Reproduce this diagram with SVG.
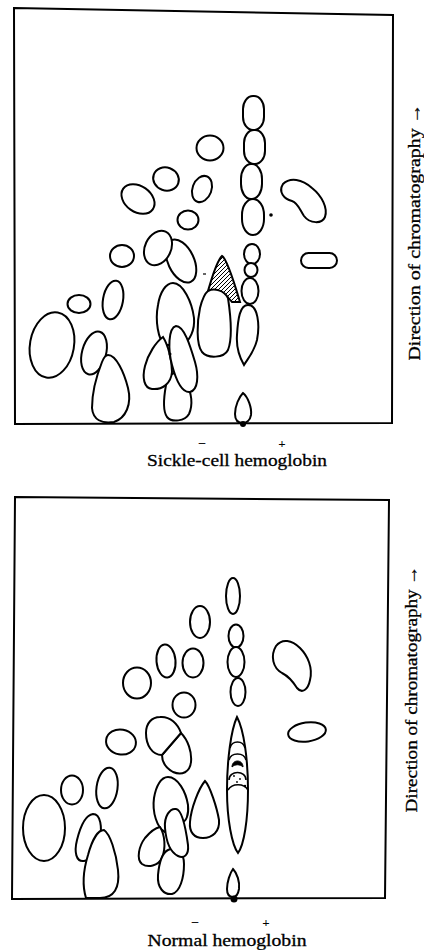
<svg xmlns="http://www.w3.org/2000/svg" width="424" height="950" viewBox="0 0 424 950">
<style>
.frame{fill:none;stroke:#000;stroke-width:2}
.s{fill:#fff;stroke:#000;stroke-width:2}
.ln{fill:none;stroke:#000;stroke-width:1.6}
.lbl{font-family:"Liberation Serif","Times New Roman",serif;font-size:17px;fill:#000;stroke:#000;stroke-width:0.3}
.sign{font-family:"Liberation Serif","Times New Roman",serif;font-size:13px;fill:#000;text-anchor:middle;font-weight:bold}
</style>
<defs>
<pattern id="hatch" patternUnits="userSpaceOnUse" width="4" height="4">
<rect width="4" height="4" fill="#fff"/>
<path d="M-1 1L1 -1M0 4L4 0M3 5L5 3" stroke="#000" stroke-width="1"/>
</pattern>
</defs>
<rect width="424" height="950" fill="#fff"/>

<g id="sickle-panel">
<path class="frame" d="M14 8L393 15L392 423L15 424Z"/>
<g id="sickle-spots">
<rect class="s" x="243" y="96" width="21" height="34" rx="10" ry="13"/>
<rect class="s" x="244" y="130" width="21" height="34" rx="10" ry="13"/>
<rect class="s" x="241" y="164" width="21" height="35" rx="10" ry="15"/>
<rect class="s" x="242" y="199" width="22" height="36" rx="11" ry="16"/>
<circle cx="271" cy="215" r="1.8" fill="#000"/>
<ellipse class="s" cx="252" cy="254" rx="8" ry="10"/>
<ellipse class="s" cx="251" cy="270" rx="6.5" ry="7"/>
<ellipse class="s" cx="250" cy="291" rx="8.5" ry="13"/>
<path class="s" d="M248 305C258 305 260 325 257 340C254 352 247 360 244 365C240 358 236 348 237 335C238 318 240 305 248 305Z"/>
<path class="s" d="M243 393C248 397 252 408 251 415C250 421 246 423 243 423C239 423 235 421 235 414C235 406 239 397 243 393Z"/>
<circle cx="243" cy="424" r="3" fill="#000"/>
<path d="M222 256C226 258 232 275 240 302L232 302C228 296 218 288 208 291C212 278 216 262 222 256Z" fill="url(#hatch)" stroke="#000" stroke-width="2"/>
<path class="s" d="M208 291C214 288 224 290 228 298C231 318 232 340 228 350C224 358 208 359 202 352C196 344 197 322 200 308C202 300 204 294 208 291Z"/>
<path d="M203 274h3" stroke="#000" stroke-width="1.2"/>
<path class="s" d="M283 184C290 177 302 179 312 188C322 196 328 208 325 217C322 224 310 224 304 216C300 210 298 203 292 201C284 199 278 192 283 184Z"/>
<rect class="s" x="301" y="253" width="36" height="15" rx="7.5"/>
<ellipse class="s" cx="210" cy="148" rx="13.5" ry="12.5"/>
<ellipse class="s" cx="166" cy="179" rx="13" ry="11.5" transform="rotate(20 166 179)"/>
<ellipse class="s" cx="202" cy="189" rx="9.5" ry="13.5" transform="rotate(20 202 189)"/>
<ellipse class="s" cx="138" cy="199" rx="18" ry="13" transform="rotate(35 138 199)"/>
<ellipse class="s" cx="188" cy="220" rx="10.5" ry="9.5"/>
<ellipse class="s" cx="122" cy="256" rx="12" ry="11"/>
<ellipse class="s" cx="79" cy="304" rx="11.5" ry="9"/>
<ellipse class="s" cx="113" cy="300" rx="10" ry="19.5" transform="rotate(10 113 300)"/>
<ellipse class="s" cx="181" cy="261" rx="13" ry="23" transform="rotate(-25 181 261)"/>
<ellipse class="s" cx="158" cy="248" rx="13" ry="18" transform="rotate(25 158 248)"/>
<ellipse class="s" cx="52" cy="345" rx="22" ry="33" transform="rotate(10 52 345)"/>
<ellipse class="s" cx="94" cy="353" rx="12" ry="22" transform="rotate(15 94 353)"/>
<path class="s" d="M108 355C116 355 124 372 128 388C132 404 126 418 114 422C102 424 93 420 92 408C92 390 98 372 102 362C104 357 106 355 108 355Z"/>
<path class="s" d="M173 283C183 283 192 302 194 318C195 330 190 340 183 345L165 345C158 340 155 320 158 305C160 292 166 283 173 283Z"/>
<path class="s" d="M172 374C180 370 184 380 186 385C192 392 193 405 189 414C185 421 172 423 167 417C162 410 164 396 166 385C167 378 169 375 172 374Z"/>
<path class="s" d="M163 337C168 345 172 360 172 372C171 384 162 390 152 389C144 388 142 378 145 366C148 354 156 342 163 337Z"/>
<path class="s" d="M176 326C184 326 190 345 195 362C199 376 198 390 190 392C182 393 176 380 172 365C168 350 168 328 176 326Z"/>
<circle cx="170" cy="354" r="1.5" fill="#000"/>
</g>
</g>
<g id="sickle-labels">
<text class="sign" x="202" y="446">–</text>
<text class="sign" x="282" y="448">+</text>
<text class="lbl" x="237" y="466" text-anchor="middle" textLength="180" lengthAdjust="spacingAndGlyphs">Sickle-cell hemoglobin</text>
<text class="lbl" transform="translate(420 232) rotate(-90)" text-anchor="middle" textLength="257" lengthAdjust="spacingAndGlyphs">Direction of chromatography →</text>
</g>

<g id="normal-panel">
<path class="frame" d="M15 497L389 500L385 898L12 899Z"/>
<g id="normal-spots">
<ellipse class="s" cx="233" cy="596" rx="7" ry="18"/>
<ellipse class="s" cx="236" cy="636" rx="7.5" ry="11.5"/>
<ellipse class="s" cx="236" cy="662" rx="8.5" ry="15"/>
<ellipse class="s" cx="238" cy="692" rx="7.5" ry="14"/>
<path class="s" d="M237 717C244 730 248 760 248 790C248 820 244 845 238 853C232 845 227 820 227 790C227 760 231 730 237 717Z"/>
<path class="ln" d="M230 748C232 740 243 740 245 748"/>
<path class="ln" d="M229 760C231 752 244 752 246 760"/>
<path d="M232 767C232 759 243 759 243 767C240 764 235 764 232 767Z" fill="#000" stroke="#000" stroke-width="1"/>
<path class="ln" d="M229 780C229 770 246 770 246 780"/>
<circle cx="234" cy="776" r="0.9" fill="#000"/>
<circle cx="240" cy="779" r="0.9" fill="#000"/>
<circle cx="237" cy="782" r="0.9" fill="#000"/>
<circle cx="245" cy="786" r="1.2" fill="#000"/>
<path class="ln" d="M228 790C232 783 244 783 248 790"/>
<path class="s" d="M233 869C237 873 240 882 239 889C238 895 236 897 233 897C230 897 227 895 227 889C227 882 230 873 233 869Z"/>
<circle cx="234" cy="899" r="3.5" fill="#000"/>
<path class="s" d="M276 646C282 638 292 640 300 648C308 656 313 668 310 680C308 690 302 694 297 688C292 680 288 676 282 673C273 668 270 656 276 646Z"/>
<ellipse class="s" cx="307" cy="732" rx="19" ry="9.5" transform="rotate(-8 307 732)"/>
<ellipse class="s" cx="200" cy="622" rx="10" ry="16"/>
<ellipse class="s" cx="166" cy="661" rx="9.5" ry="16.5" transform="rotate(-5 166 661)"/>
<ellipse class="s" cx="193" cy="663" rx="10.5" ry="14.5"/>
<ellipse class="s" cx="137" cy="683" rx="14" ry="15.5"/>
<ellipse class="s" cx="184" cy="705" rx="11.5" ry="12.5"/>
<ellipse class="s" cx="121" cy="742" rx="15" ry="12.5" transform="rotate(10 121 742)"/>
<path class="s" d="M181 733C188 740 192 752 191 762C190 772 182 776 173 772C166 768 162 762 162 755Z"/>
<path class="s" d="M160 717C170 716 178 724 181 733L162 755C152 755 146 745 146 733C146 723 152 717 160 717Z"/>
<ellipse class="s" cx="72" cy="790" rx="11" ry="14.5"/>
<ellipse class="s" cx="107" cy="788" rx="10.5" ry="20.5" transform="rotate(8 107 788)"/>
<ellipse class="s" cx="44" cy="828" rx="21" ry="33"/>
<path class="s" d="M93 814C101 814 102 828 100 838C98 850 92 860 84 861C76 862 74 852 77 840C80 828 85 815 93 814Z"/>
<path class="s" d="M104 830C110 834 116 852 118 870C120 888 114 898 100 898L86 898C82 885 84 868 88 855C92 840 98 830 104 830Z"/>
<path class="s" d="M168 777C178 777 186 792 188 805C189 815 186 822 182 822C178 820 175 818 172 825L165 832C157 828 152 812 154 798C156 786 161 777 168 777Z"/>
<path class="s" d="M160 827C165 835 166 848 162 858C158 866 148 868 142 864C136 859 139 846 145 838C150 832 155 828 160 827Z"/>
<path class="s" d="M168 850C176 846 184 852 184 864C184 878 180 892 172 894C164 895 157 888 158 875C159 864 162 853 168 850Z"/>
<path class="s" d="M176 809C182 810 186 830 188 845C189 855 184 859 178 856C170 852 166 840 165 828C164 816 170 808 176 809Z"/>
<path class="s" d="M205 781C210 786 217 808 219 820C220 832 212 838 203 838C194 838 189 832 190 822C191 808 199 788 205 781Z"/>
</g>
</g>
<g id="normal-labels">
<text class="sign" x="195" y="925">–</text>
<text class="sign" x="266" y="927">+</text>
<text class="lbl" x="227" y="946" text-anchor="middle" textLength="159" lengthAdjust="spacingAndGlyphs">Normal hemoglobin</text>
<text class="lbl" transform="translate(417 689) rotate(-90)" text-anchor="middle" textLength="247" lengthAdjust="spacingAndGlyphs">Direction of chromatography →</text>
</g>
</svg>
